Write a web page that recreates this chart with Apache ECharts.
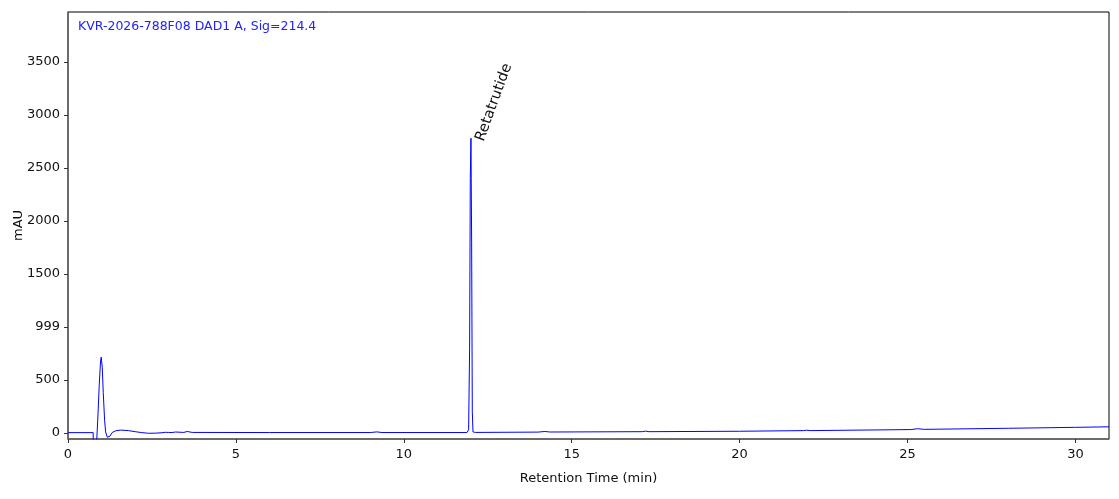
<!DOCTYPE html>
<html><head><meta charset="utf-8">
<script src="https://cdn.jsdelivr.net/npm/echarts@6/dist/echarts.min.js"></script>
<style>html,body{margin:0;padding:0;background:#fff}#c{width:1119px;height:499px}</style>
</head><body><div id="c"></div>
<script>
var titleText = 'KVR-2026-788F08 DAD1 A, Sig=214.4';
var peakName = 'Retatrutide';
var peakTime = 12.0;
var peakHeight = 2780;
var xTicks = [0, 5, 10, 15, 20, 25, 30];
var yTicks = [0, 500, 1000, 1500, 2000, 2500, 3000, 3500];
var yTickLabels = ['0', '500', '999', '1500', '2000', '2500', '3000', '3500'];
var times = [0, 0.75, 0.755, 0.845, 0.85, 0.89, 0.93, 0.97, 0.99, 1.02, 1.05, 1.09, 1.12, 1.17, 1.2, 1.25, 1.32, 1.42, 1.57, 1.8, 2.0, 2.2, 2.4, 2.6, 2.8, 2.9, 2.95, 3.0, 3.1, 3.2, 3.25, 3.45, 3.55, 3.6, 3.7, 6.0, 9.0, 9.2, 9.35, 11.88, 11.93, 11.96, 11.98, 12.0, 12.02, 12.04, 12.06, 12.13, 14.0, 14.2, 14.35, 17.1, 17.2, 17.3, 20.0, 21.9, 22.0, 22.1, 25.1, 25.3, 25.5, 28.0, 30.0, 31.0];
var signal = [3, 3, -400, -400, -100, 150, 450, 680, 715, 620, 380, 120, 10, -40, -50, -30, 5, 20, 27, 22, 12, 3, -3, -2, 2, 6, 12, 5, 4, 9, 5, 5, 14, 6, 5, 4, 4, 10, 4, 4, 30, 800, 2400, 2780, 1800, 200, 10, 5, 8, 14, 9, 12, 17, 12, 16, 22, 26, 22, 32, 40, 34, 44, 53, 58];

var chart = echarts.init(document.getElementById('c'));
var data = times.map(function (t, i) { return [t, signal[i]]; });
var font = 'DejaVu Sans';
chart.setOption({
  animation: false,
  grid: { left: 68, right: 10, top: 12, bottom: 60, show: true, borderColor: '#000', borderWidth: 1, containLabel: false, outerBoundsMode: 'none' },
  xAxis: {
    type: 'value', min: 0, max: 31,
    name: 'Retention Time (min)', nameLocation: 'middle', nameGap: 33, nameMoveOverlap: false,
    nameTextStyle: { fontFamily: font, fontSize: 13, color: '#111' },
    axisLine: { show: true, onZero: false, lineStyle: { color: '#666', width: 1.5 } },
    axisTick: { show: true, length: 4, lineStyle: { color: '#333' }, customValues: xTicks },
    axisLabel: { fontFamily: font, fontSize: 13, color: '#111', margin: 9, customValues: xTicks },
    splitLine: { show: false }
  },
  yAxis: {
    type: 'value', min: -57, max: 3970,
    name: 'mAU', nameLocation: 'middle', nameGap: 43, nameMoveOverlap: false,
    nameTextStyle: { fontFamily: font, fontSize: 13, color: '#111' },
    axisLine: { show: true, onZero: false, lineStyle: { color: '#666', width: 1.5 } },
    axisTick: { show: true, length: 4, lineStyle: { color: '#333' }, customValues: yTicks },
    axisLabel: { fontFamily: font, fontSize: 13, color: '#111', margin: 8, customValues: yTicks,
      formatter: function (v) { var i = yTicks.indexOf(v); return i >= 0 ? yTickLabels[i] : ''; } },
    splitLine: { show: false }
  },
  series: [{
    type: 'line', data: data, showSymbol: false, symbol: 'none', clip: true,
    lineStyle: { color: '#0000ff', width: 1 }
  }]
});
var p = chart.convertToPixel({ gridIndex: 0 }, [peakTime, peakHeight]);
chart.setOption({
  graphic: [
    { type: 'text', left: 78, top: 20, style: { text: titleText, fill: '#2222ff', font: '12.5px "DejaVu Sans"' } },
    { type: 'text', x: p[0] + 2, y: p[1], rotation: 70 * Math.PI / 180,
      style: { text: peakName, fill: '#111', font: '14.5px "DejaVu Sans"', textAlign: 'left', textVerticalAlign: 'top' } }
  ]
});
</script></body></html>
